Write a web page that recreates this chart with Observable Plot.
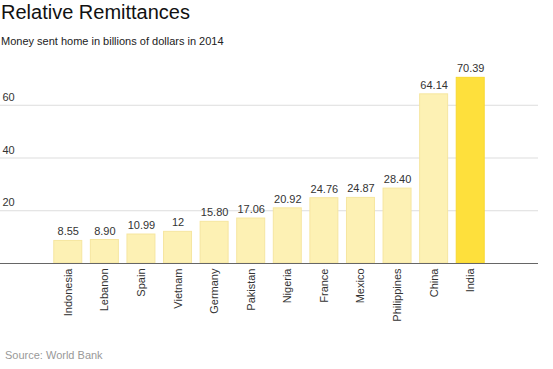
<!DOCTYPE html>
<html>
<head>
<meta charset="utf-8">
<script src="https://cdn.jsdelivr.net/npm/d3@7"></script>
<script src="https://cdn.jsdelivr.net/npm/@observablehq/plot@0.6"></script>
<style>
  html, body { margin: 0; padding: 0; background: #fff; }
  body { width: 553px; height: 369px; position: relative; overflow: hidden; font-family: "Liberation Sans", Arial, sans-serif; }
  #title { position: absolute; left: 1px; top: 1px; font-size: 20px; color: #111; }
  #subtitle { position: absolute; left: 1px; top: 35px; font-size: 11px; color: #222; }
  #chart { position: absolute; left: 0; top: 52px; }
  #source { position: absolute; left: 5px; top: 349px; font-size: 11px; color: #999; }
</style>
</head>
<body>
<div id="title">Relative Remittances</div>
<div id="subtitle">Money sent home in billions of dollars in 2014</div>
<div id="chart"></div>
<div id="source">Source: World Bank</div>
<script>
const countries = ["Indonesia", "Lebanon", "Spain", "Vietnam", "Germany", "Pakistan", "Nigeria", "France", "Mexico", "Philippines", "China", "India"];
const values = [8.55, 8.90, 10.99, 12, 15.80, 17.06, 20.92, 24.76, 24.87, 28.40, 64.14, 70.39];
const labels = ["8.55", "8.90", "10.99", "12", "15.80", "17.06", "20.92", "24.76", "24.87", "28.40", "64.14", "70.39"];
const highlight = ["India"];
const yTicks = [20, 40, 60];

const data = countries.map((c, i) => ({country: c, value: values[i], label: labels[i], hi: highlight.includes(c)}));

const chart = Plot.plot({
  width: 553,
  height: 291,
  marginTop: 0,
  marginLeft: 0,
  marginRight: 15,
  marginBottom: 80,
  style: {fontFamily: "Liberation Sans, Arial, sans-serif", fontSize: "11px", color: "#333", background: "#fff"},
  x: {domain: countries, paddingInner: 0.235, paddingOuter: 1.47, round: false, label: null},
  y: {domain: [0, 80], label: null, axis: null},
  marks: [
    Plot.gridY(yTicks, {stroke: "#dddddd", strokeOpacity: 1}),
    Plot.text(yTicks, {y: d => d, text: d => String(d), frameAnchor: "left", textAnchor: "start", dx: 2, dy: -8, fill: "#333", fontSize: 11}),
    Plot.barY(data, {x: "country", y: "value", fill: d => d.hi ? "#fee03c" : "#fdf1b4", stroke: d => d.hi ? "#f8d830" : "#f6e6a0", strokeWidth: 1}),
    Plot.ruleY([0], {stroke: "#666", strokeWidth: 1}),
    Plot.text(data, {x: "country", y: "value", text: "label", dy: -9, fill: "#333", fontSize: 11}),
    Plot.axisX({tickSize: 0, tickPadding: 5, tickRotate: -90, fill: "#333", label: null, fontSize: 11})
  ]
});
document.getElementById("chart").appendChild(chart);
</script>
</body>
</html>
